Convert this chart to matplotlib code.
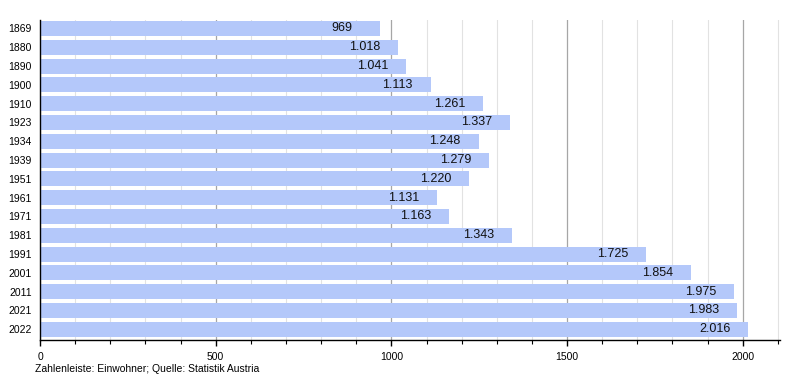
import matplotlib.pyplot as plt
from matplotlib.ticker import MultipleLocator

years = ["1869", "1880", "1890", "1900", "1910", "1923", "1934", "1939", "1951",
         "1961", "1971", "1981", "1991", "2001", "2011", "2021", "2022"]
population = [969, 1018, 1041, 1113, 1261, 1337, 1248, 1279, 1220,
              1131, 1163, 1343, 1725, 1854, 1975, 1983, 2016]
caption = "Zahlenleiste: Einwohner; Quelle: Statistik Austria"

plt.rcParams["font.family"] = ["Liberation Sans", "DejaVu Sans"]

fig = plt.figure(figsize=(8, 3.8), dpi=100)
ax = fig.add_axes([0.05, 0.1053, 0.925, 0.8421])

pos = list(range(len(years)))
ax.barh(pos, population, height=0.8, color="#b4c8fa", zorder=2)

for y, v in zip(pos, population):
    label = f"{v:,}".replace(",", ".")
    ax.annotate(label, xy=(v, y), xytext=(-49, 0), textcoords="offset pixels",
                ha="left", va="center", fontsize=9, color="#111111", zorder=3)

ax.set_xlim(0, 2106)
ax.set_ylim(16.57, -0.45)
ax.set_yticks(pos)
ax.set_yticklabels(years, fontsize=7.5)
ax.tick_params(axis="y", length=0, pad=6)
ax.xaxis.set_major_locator(MultipleLocator(500))
ax.xaxis.set_minor_locator(MultipleLocator(100))
ax.tick_params(axis="x", which="major", length=4, width=1, labelsize=7.5, pad=5)
ax.tick_params(axis="x", which="minor", length=3, width=0.8)
ax.grid(axis="x", which="major", color="#a6a6a6", linewidth=0.9, zorder=0)
ax.grid(axis="x", which="minor", color="#e2e2e2", linewidth=0.8, zorder=0)
ax.set_axisbelow(True)

for side in ("top", "right"):
    ax.spines[side].set_visible(False)
ax.spines["left"].set_linewidth(1)
ax.spines["bottom"].set_linewidth(1)

fig.text(35 / 800, 1 - 369 / 380, caption, fontsize=7.5, ha="left", va="center")

fig.savefig("out.png", dpi=100)
